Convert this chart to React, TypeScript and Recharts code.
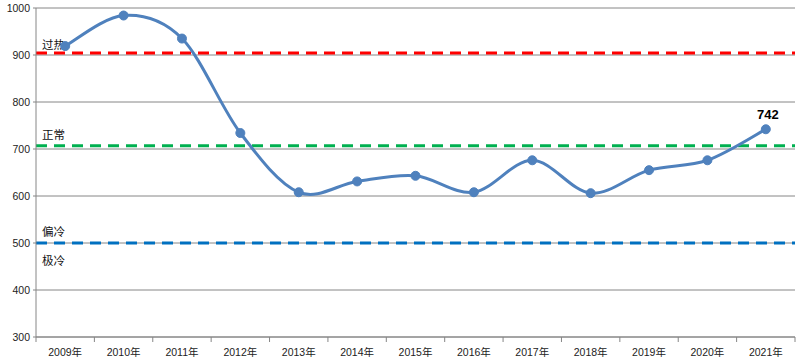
import React from 'react';
import { LineChart, Line, XAxis, YAxis, CartesianGrid, ReferenceLine, LabelList } from 'recharts';

const years = ['2009年', '2010年', '2011年', '2012年', '2013年', '2014年', '2015年', '2016年', '2017年', '2018年', '2019年', '2020年', '2021年'];
const values = [919, 984, 935, 734, 608, 631, 643, 608, 676, 606, 655, 676, 742];
const yTicks = [300, 400, 500, 600, 700, 800, 900, 1000];
const levelValues = [904, 707, 500];
const levelColors = ['#FF0000', '#00B050', '#0070C0'];

const data = years.map((year, i) => ({ year, value: values[i] }));

const W = 803;
const H = 362;
const M = { top: 8, right: 8, left: 0, bottom: 0 };
const Y_W = 36;
const X_H = 25;
const halfBand = (W - M.left - M.right - Y_W) / years.length / 2;

const FONT = '"Liberation Sans", Arial, "Noto Sans CJK SC", sans-serif';
const CJK = '"Noto Sans CJK SC", sans-serif';

// Excel-like smooth line (Catmull-Rom style Bezier)
function excelCurve(context: any) {
  let pts: number[][] = [];
  return {
    areaStart() {},
    areaEnd() {},
    lineStart() { pts = []; },
    point(x: number, y: number) { pts.push([+x, +y]); },
    lineEnd() {
      const n = pts.length;
      if (!n) return;
      context.moveTo(pts[0][0], pts[0][1]);
      for (let i = 0; i < n - 1; i++) {
        const p0 = pts[i - 1] || pts[i];
        const p1 = pts[i];
        const p2 = pts[i + 1];
        const p3 = pts[i + 2] || p2;
        const c1x = p1[0] + (p2[0] - p0[0]) / 6;
        const c1y = p1[1] + (p2[1] - p0[1]) / 6;
        const c2x = p2[0] - (p3[0] - p1[0]) / 6;
        const c2y = p2[1] - (p3[1] - p1[1]) / 6;
        context.bezierCurveTo(c1x, c1y, c2x, c2y, p2[0], p2[1]);
      }
    },
  };
}

const XTick = (props: any) => {
  const { x, y, payload, index } = props;
  const last = index === years.length - 1;
  return (
    <g>
      <line x1={x - halfBand} x2={x - halfBand} y1={y - 8} y2={y - 3} stroke="#868686" />
      {last && <line x1={x + halfBand} x2={x + halfBand} y1={y - 8} y2={y - 3} stroke="#868686" />}
      <text x={x} y={y + 7} textAnchor="middle" dominantBaseline="central" fontSize={10.5} fill="#222" fontFamily={FONT}>
        {payload.value}
      </text>
    </g>
  );
};

const levelLabel = (text: string, dy: number, text2?: string, dy2?: number) => (props: any) => {
  const { viewBox } = props;
  return (
    <g>
      <text x={viewBox.x + 6} y={viewBox.y + dy} dominantBaseline="central" fontSize={11.5} fill="#111" fontFamily={CJK}>{text}</text>
      {text2 && <text x={viewBox.x + 6} y={viewBox.y + (dy2 as number)} dominantBaseline="central" fontSize={11.5} fill="#111" fontFamily={CJK}>{text2}</text>}
    </g>
  );
};

const lastLabel = (props: any) => {
  const { x, y, value, index } = props;
  if (index !== values.length - 1) return null;
  return (
    <text x={x + 2} y={y - 15} textAnchor="middle" dominantBaseline="central" fontSize={13} fontWeight="bold" fill="#000" fontFamily={FONT}>
      {value}
    </text>
  );
};

export default function App() {
  return (
    <div style={{ position: 'absolute', left: 0, top: 0, width: W, height: H, background: '#fff' }}>
      <LineChart width={W} height={H} data={data} margin={M}>
        <CartesianGrid vertical={false} stroke="#868686" />
        <XAxis dataKey="year" scale="band" height={X_H} stroke="#868686" tickLine={false} tick={<XTick />} interval={0} />
        <YAxis
          width={Y_W}
          domain={[300, 1000]}
          ticks={yTicks}
          stroke="#868686"
          tickSize={3}
          tickMargin={3}
          tick={{ fontSize: 10.5, fill: '#222', fontFamily: FONT }}
          interval={0}
        />
        <ReferenceLine y={levelValues[0]} stroke={levelColors[0]} strokeWidth={3} strokeDasharray="11 7" label={levelLabel('过热', -9)} />
        <ReferenceLine y={levelValues[1]} stroke={levelColors[1]} strokeWidth={3} strokeDasharray="11 7" label={levelLabel('正常', -12)} />
        <ReferenceLine y={levelValues[2]} stroke={levelColors[2]} strokeWidth={3} strokeDasharray="11 7" label={levelLabel('偏冷', -12, '极冷', 17)} />
        <Line
          dataKey="value"
          type={excelCurve as any}
          stroke="#4F81BD"
          strokeWidth={3}
          dot={{ r: 4.5, fill: '#4F81BD', stroke: '#4F81BD', strokeWidth: 1 }}
          isAnimationActive={false}
        >
          <LabelList dataKey="value" content={lastLabel} />
        </Line>
      </LineChart>
    </div>
  );
}
